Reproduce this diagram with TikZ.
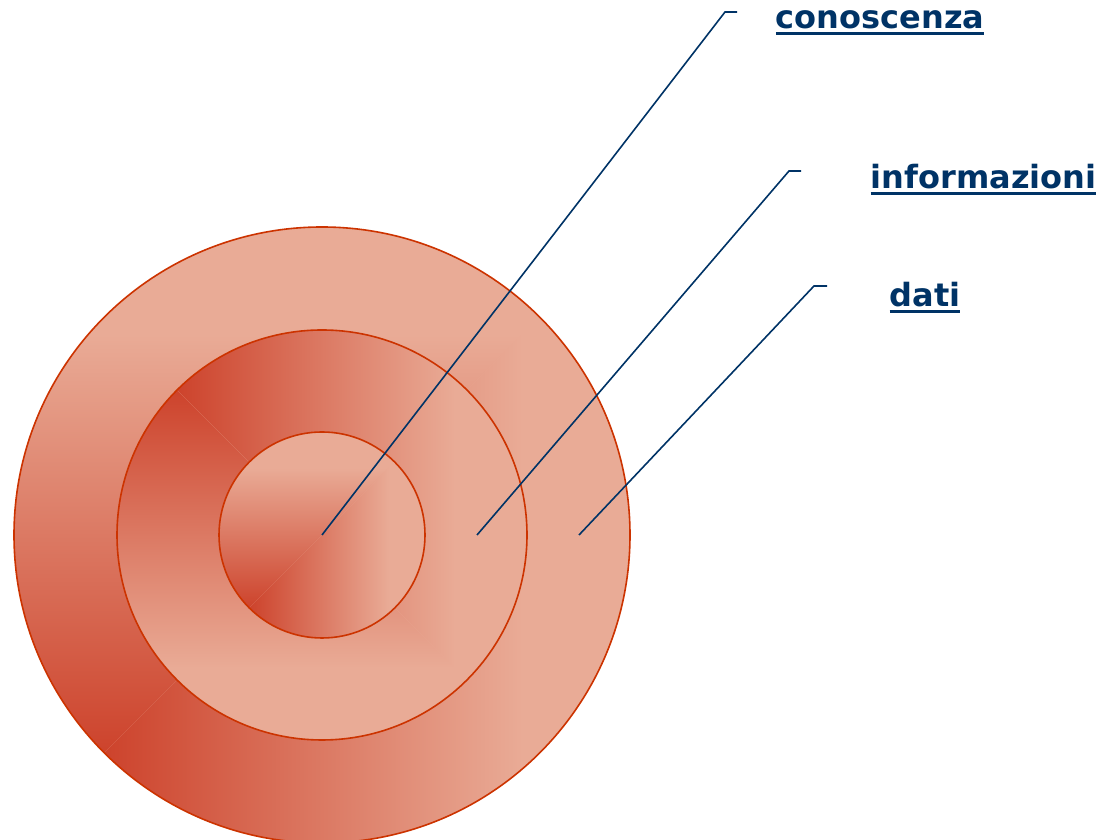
\documentclass[tikz,border=0pt]{standalone}
\usepackage{fontspec}
\setmainfont{DejaVu Sans}

\definecolor{ringdark}{RGB}{205,67,44}
\definecolor{ringlight}{RGB}{233,171,150}
\definecolor{ringedge}{RGB}{204,51,0}
\definecolor{navy}{RGB}{0,51,102}

\newcommand{\ulabel}[1]{\setbox0=\hbox{#1}\rlap{\rule[-6.4pt]{\wd0}{3.4pt}}\box0}

\begin{document}
\begin{tikzpicture}[
    x=1pt, y=1pt,
    % Define styles
    ring/.style={draw=ringedge, line width=1.6pt},
    lead/.style={draw=navy, line width=1.6pt},
    tag/.style={text=navy, inner sep=0pt, anchor=base,
                font=\bfseries\fontsize{32}{38}\selectfont}
]
    \useasboundingbox (0,0) rectangle (1104,840);
    \coordinate (O) at (322,305);

    % Shaded rings, dark corner bottom left or top left
    \foreach \r/\s/\cb/\ct in {308/1/ringdark/ringlight,
                               205/-1/ringlight/ringdark,
                               103/1/ringdark/ringlight} {
        \begin{scope}
            \clip (O) circle (\r);
            \fill[ringlight] (O) circle (\r);
            \shade[bottom color=\cb, top color=\ct]
                ({322-\r},{305-\s*0.707*\r}) rectangle ({322+\r},{305+\s*0.65*\r});
            \clip ({322-\r},{305-\s*\r}) -- ({322+\r},{305-\s*\r})
                -- ({322+\r},{305+\s*\r}) -- cycle;
            \fill[ringlight] (O) circle (\r);
            \shade[left color=ringdark, right color=ringlight]
                ({322-0.707*\r},{305-\r}) rectangle ({322+0.65*\r},{305+\r});
        \end{scope}
        \draw[ring] (O) circle (\r);
    }

    % Labels
    \node[tag] (conoscenza) at (880,811) {\ulabel{conoscenza}};
    \node[tag] (informazioni) at (983.5,651) {\ulabel{informazioni}};
    \node[tag] (dati) at (925,533) {\ulabel{dati}};

    % Leader lines
    \coordinate (c1) at (322,305);
    \coordinate (c2) at (725,828);
    \coordinate (c3) at (737,828);
    \coordinate (i1) at (477,305);
    \coordinate (i2) at (789,669);
    \coordinate (i3) at (801,669);
    \coordinate (d1) at (579,305);
    \coordinate (d2) at (814,554);
    \coordinate (d3) at (827,554);
    \draw[lead] (c1) -- (c2) -- (c3);
    \draw[lead] (i1) -- (i2) -- (i3);
    \draw[lead] (d1) -- (d2) -- (d3);
\end{tikzpicture}
\end{document}
